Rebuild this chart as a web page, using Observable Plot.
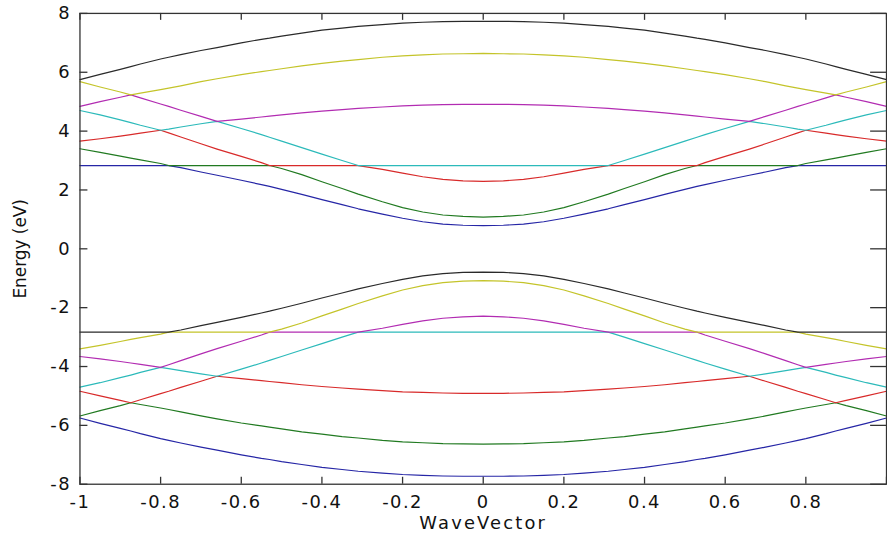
<!DOCTYPE html>
<html><head><meta charset="utf-8">
<script src="https://cdn.jsdelivr.net/npm/d3@7"></script>
<script src="https://cdn.jsdelivr.net/npm/@observablehq/plot@0.6"></script>
<style>
html,body{margin:0;padding:0;background:#fff;overflow:hidden;}
#chart svg text{letter-spacing:1.5px;}
#chart g[aria-description="x title"] text{letter-spacing:2.2px;}
#chart g[aria-description="y title"] text{letter-spacing:0;}
</style></head><body><div id="chart"></div>
<script>
// Wave vector sample points
const xs = [-1,-0.95,-0.9,-0.874,-0.85,-0.8,-0.78,-0.75,-0.7,-0.66,-0.6,-0.55,-0.53,-0.5,-0.45,-0.4,-0.35,-0.31,-0.25,-0.2,-0.15,-0.1,-0.05,0,0.05,0.1,0.15,0.2,0.25,0.31,0.35,0.4,0.45,0.5,0.53,0.55,0.6,0.66,0.7,0.75,0.78,0.8,0.85,0.874,0.9,0.95,1];

// Lower bands (eV)
const blueL = [-5.75,-5.93,-6.10,-6.19,-6.28,-6.45,-6.51,-6.60,-6.74,-6.84,-7.00,-7.12,-7.16,-7.23,-7.33,-7.43,-7.50,-7.56,-7.62,-7.67,-7.70,-7.72,-7.73,-7.73,-7.73,-7.72,-7.70,-7.67,-7.62,-7.56,-7.50,-7.43,-7.33,-7.23,-7.16,-7.12,-7.00,-6.84,-6.74,-6.60,-6.51,-6.45,-6.28,-6.19,-6.10,-5.93,-5.75];
const greenL = [-5.68,-5.50,-5.33,-5.23,-5.29,-5.41,-5.46,-5.54,-5.68,-5.78,-5.92,-6.02,-6.06,-6.12,-6.22,-6.30,-6.38,-6.43,-6.51,-6.56,-6.59,-6.62,-6.63,-6.64,-6.63,-6.62,-6.59,-6.56,-6.51,-6.43,-6.38,-6.30,-6.22,-6.12,-6.06,-6.02,-5.92,-5.78,-5.68,-5.54,-5.46,-5.41,-5.29,-5.23,-5.33,-5.50,-5.68];
const redL = [-4.84,-5.00,-5.15,-5.23,-5.13,-4.92,-4.84,-4.71,-4.50,-4.33,-4.41,-4.48,-4.51,-4.55,-4.62,-4.68,-4.73,-4.77,-4.82,-4.86,-4.88,-4.90,-4.91,-4.91,-4.91,-4.90,-4.88,-4.86,-4.82,-4.77,-4.73,-4.68,-4.62,-4.55,-4.51,-4.48,-4.41,-4.33,-4.50,-4.71,-4.84,-4.92,-5.13,-5.23,-5.15,-5.00,-4.84];
const cyanL = [-4.70,-4.55,-4.38,-4.29,-4.20,-4.03,-4.07,-4.14,-4.25,-4.33,-4.09,-3.88,-3.79,-3.66,-3.44,-3.22,-3.00,-2.83,-2.83,-2.83,-2.83,-2.83,-2.83,-2.83,-2.83,-2.83,-2.83,-2.83,-2.83,-2.83,-3.00,-3.22,-3.44,-3.66,-3.79,-3.88,-4.09,-4.33,-4.25,-4.14,-4.07,-4.03,-4.20,-4.29,-4.38,-4.55,-4.70];
const magL = [-3.66,-3.74,-3.83,-3.88,-3.93,-4.03,-3.94,-3.80,-3.57,-3.39,-3.14,-2.93,-2.83,-2.83,-2.83,-2.83,-2.83,-2.83,-2.70,-2.57,-2.45,-2.36,-2.31,-2.29,-2.31,-2.36,-2.45,-2.57,-2.70,-2.83,-2.83,-2.83,-2.83,-2.83,-2.83,-2.93,-3.14,-3.39,-3.57,-3.80,-3.94,-4.03,-3.93,-3.88,-3.83,-3.74,-3.66];
const yelL = [-3.40,-3.28,-3.15,-3.08,-3.02,-2.90,-2.83,-2.83,-2.83,-2.83,-2.83,-2.83,-2.83,-2.73,-2.52,-2.28,-2.05,-1.86,-1.60,-1.40,-1.25,-1.15,-1.10,-1.08,-1.10,-1.15,-1.25,-1.40,-1.60,-1.86,-2.05,-2.28,-2.52,-2.73,-2.83,-2.83,-2.83,-2.83,-2.83,-2.83,-2.83,-2.90,-3.02,-3.08,-3.15,-3.28,-3.40];
const blackL = [-2.83,-2.83,-2.83,-2.83,-2.83,-2.83,-2.83,-2.76,-2.61,-2.50,-2.33,-2.18,-2.12,-2.02,-1.85,-1.67,-1.50,-1.36,-1.18,-1.04,-0.92,-0.84,-0.80,-0.79,-0.80,-0.84,-0.92,-1.04,-1.18,-1.36,-1.50,-1.67,-1.85,-2.02,-2.12,-2.18,-2.33,-2.50,-2.61,-2.76,-2.83,-2.83,-2.83,-2.83,-2.83,-2.83,-2.83];

// Upper bands (eV)
const blueU = [2.83,2.83,2.83,2.83,2.83,2.83,2.83,2.76,2.61,2.50,2.33,2.18,2.12,2.02,1.85,1.67,1.50,1.36,1.18,1.04,0.92,0.84,0.80,0.79,0.80,0.84,0.92,1.04,1.18,1.36,1.50,1.67,1.85,2.02,2.12,2.18,2.33,2.50,2.61,2.76,2.83,2.83,2.83,2.83,2.83,2.83,2.83];
const greenU = [3.40,3.28,3.15,3.08,3.02,2.90,2.83,2.83,2.83,2.83,2.83,2.83,2.83,2.73,2.52,2.28,2.05,1.86,1.60,1.40,1.25,1.15,1.10,1.08,1.10,1.15,1.25,1.40,1.60,1.86,2.05,2.28,2.52,2.73,2.83,2.83,2.83,2.83,2.83,2.83,2.83,2.90,3.02,3.08,3.15,3.28,3.40];
const redU = [3.66,3.74,3.83,3.88,3.93,4.03,3.94,3.80,3.57,3.39,3.14,2.93,2.83,2.83,2.83,2.83,2.83,2.83,2.70,2.57,2.45,2.36,2.31,2.29,2.31,2.36,2.45,2.57,2.70,2.83,2.83,2.83,2.83,2.83,2.83,2.93,3.14,3.39,3.57,3.80,3.94,4.03,3.93,3.88,3.83,3.74,3.66];
const cyanU = [4.70,4.55,4.38,4.29,4.20,4.03,4.07,4.14,4.25,4.33,4.09,3.88,3.79,3.66,3.44,3.22,3.00,2.83,2.83,2.83,2.83,2.83,2.83,2.83,2.83,2.83,2.83,2.83,2.83,2.83,3.00,3.22,3.44,3.66,3.79,3.88,4.09,4.33,4.25,4.14,4.07,4.03,4.20,4.29,4.38,4.55,4.70];
const magU = [4.84,5.00,5.15,5.23,5.13,4.92,4.84,4.71,4.50,4.33,4.41,4.48,4.51,4.55,4.62,4.68,4.73,4.77,4.82,4.86,4.88,4.90,4.91,4.91,4.91,4.90,4.88,4.86,4.82,4.77,4.73,4.68,4.62,4.55,4.51,4.48,4.41,4.33,4.50,4.71,4.84,4.92,5.13,5.23,5.15,5.00,4.84];
const yelU = [5.68,5.50,5.33,5.23,5.29,5.41,5.46,5.54,5.68,5.78,5.92,6.02,6.06,6.12,6.22,6.30,6.38,6.43,6.51,6.56,6.59,6.62,6.63,6.64,6.63,6.62,6.59,6.56,6.51,6.43,6.38,6.30,6.22,6.12,6.06,6.02,5.92,5.78,5.68,5.54,5.46,5.41,5.29,5.23,5.33,5.50,5.68];
const blackU = [5.75,5.93,6.10,6.19,6.28,6.45,6.51,6.60,6.74,6.84,7.00,7.12,7.16,7.23,7.33,7.43,7.50,7.56,7.62,7.67,7.70,7.72,7.73,7.73,7.73,7.72,7.70,7.67,7.62,7.56,7.50,7.43,7.33,7.23,7.16,7.12,7.00,6.84,6.74,6.60,6.51,6.45,6.28,6.19,6.10,5.93,5.75];

// Ticks and labels
const xTicks = [-1,-0.8,-0.6,-0.4,-0.2,0,0.2,0.4,0.6,0.8,1];
const xTickLabels = ["-1","-0.8","-0.6","-0.4","-0.2","0","0.2","0.4","0.6","0.8"];
const yTicks = [-8,-6,-4,-2,0,2,4,6,8];
const yTickLabels = ["-8","-6","-4","-2","0","2","4","6","8"];
const xTitle = "WaveVector";
const yTitle = "Energy (eV)";

const colors = {b:"#2626a6", g:"#217a21", r:"#d82a2a", c:"#2cbaba", m:"#b22cb2", y:"#c4c42a", k:"#2a2a2a"};
const series = [
  [blueL,colors.b],[greenL,colors.g],[redL,colors.r],[cyanL,colors.c],[magL,colors.m],[yelL,colors.y],[blackL,colors.k],
  [blueU,colors.b],[greenU,colors.g],[redU,colors.r],[cyanU,colors.c],[magU,colors.m],[yelU,colors.y],[blackU,colors.k]
];

const xLab = new Map(xTicks.slice(0, xTickLabels.length).map((t,i)=>[t, xTickLabels[i]]));
const yLab = new Map(yTicks.map((t,i)=>[t, yTickLabels[i]]));

const W = 893, H = 537, ML = 80, MR = 1, MT = 13, MB = 50;
const frameW = W - ML - MR, frameH = H - MT - MB;
const axisColor = "#333";

const chart = Plot.plot({
  width: W, height: H,
  marginLeft: ML, marginRight: MR, marginTop: MT, marginBottom: MB,
  x: {domain: [-1, 1], label: null},
  y: {domain: [-8, 8], label: null},
  style: {fontFamily: "'DejaVu Sans', sans-serif", fontSize: "18px", background: "#fff", color: "#111"},
  marks: [
    ...series.map(([v, c]) => Plot.line(xs.map((x, i) => ({x, e: v[i]})), {x: "x", y: "e", stroke: c, strokeWidth: 1.2})),
    Plot.frame({stroke: axisColor, strokeWidth: 1.3}),
    // inward ticks on all four sides (MATLAB box style)
    Plot.tickX(xTicks, {x: d => d, insetTop: frameH - 7, stroke: axisColor, strokeWidth: 1.3}),
    Plot.tickX(xTicks, {x: d => d, insetBottom: frameH - 7, stroke: axisColor, strokeWidth: 1.3}),
    Plot.tickY(yTicks, {y: d => d, insetRight: frameW - 8, stroke: axisColor, strokeWidth: 1.3}),
    Plot.tickY(yTicks, {y: d => d, insetLeft: frameW - 16, stroke: axisColor, strokeWidth: 1.3}),
    Plot.axisX(xTicks.slice(0, xTickLabels.length), {anchor: "bottom", tickSize: 0, tickPadding: 11, tickFormat: d => xLab.get(d), fill: "#111", label: null}),
    Plot.axisY(yTicks, {anchor: "left", tickSize: 0, tickPadding: 9, tickFormat: d => yLab.get(d), fill: "#111", label: null}),
    Plot.text([xTitle], {text: d => d, frameAnchor: "bottom", textAnchor: "middle", dy: 45, lineAnchor: "bottom", fontSize: 18, fill: "#111", ariaDescription: "x title"}),
    Plot.text([yTitle], {text: d => d, frameAnchor: "left", textAnchor: "middle", lineAnchor: "middle", rotate: -90, dx: -59.5, fontSize: 17, fill: "#111", ariaDescription: "y title"})
  ]
});
document.getElementById("chart").appendChild(chart);
</script></body></html>
